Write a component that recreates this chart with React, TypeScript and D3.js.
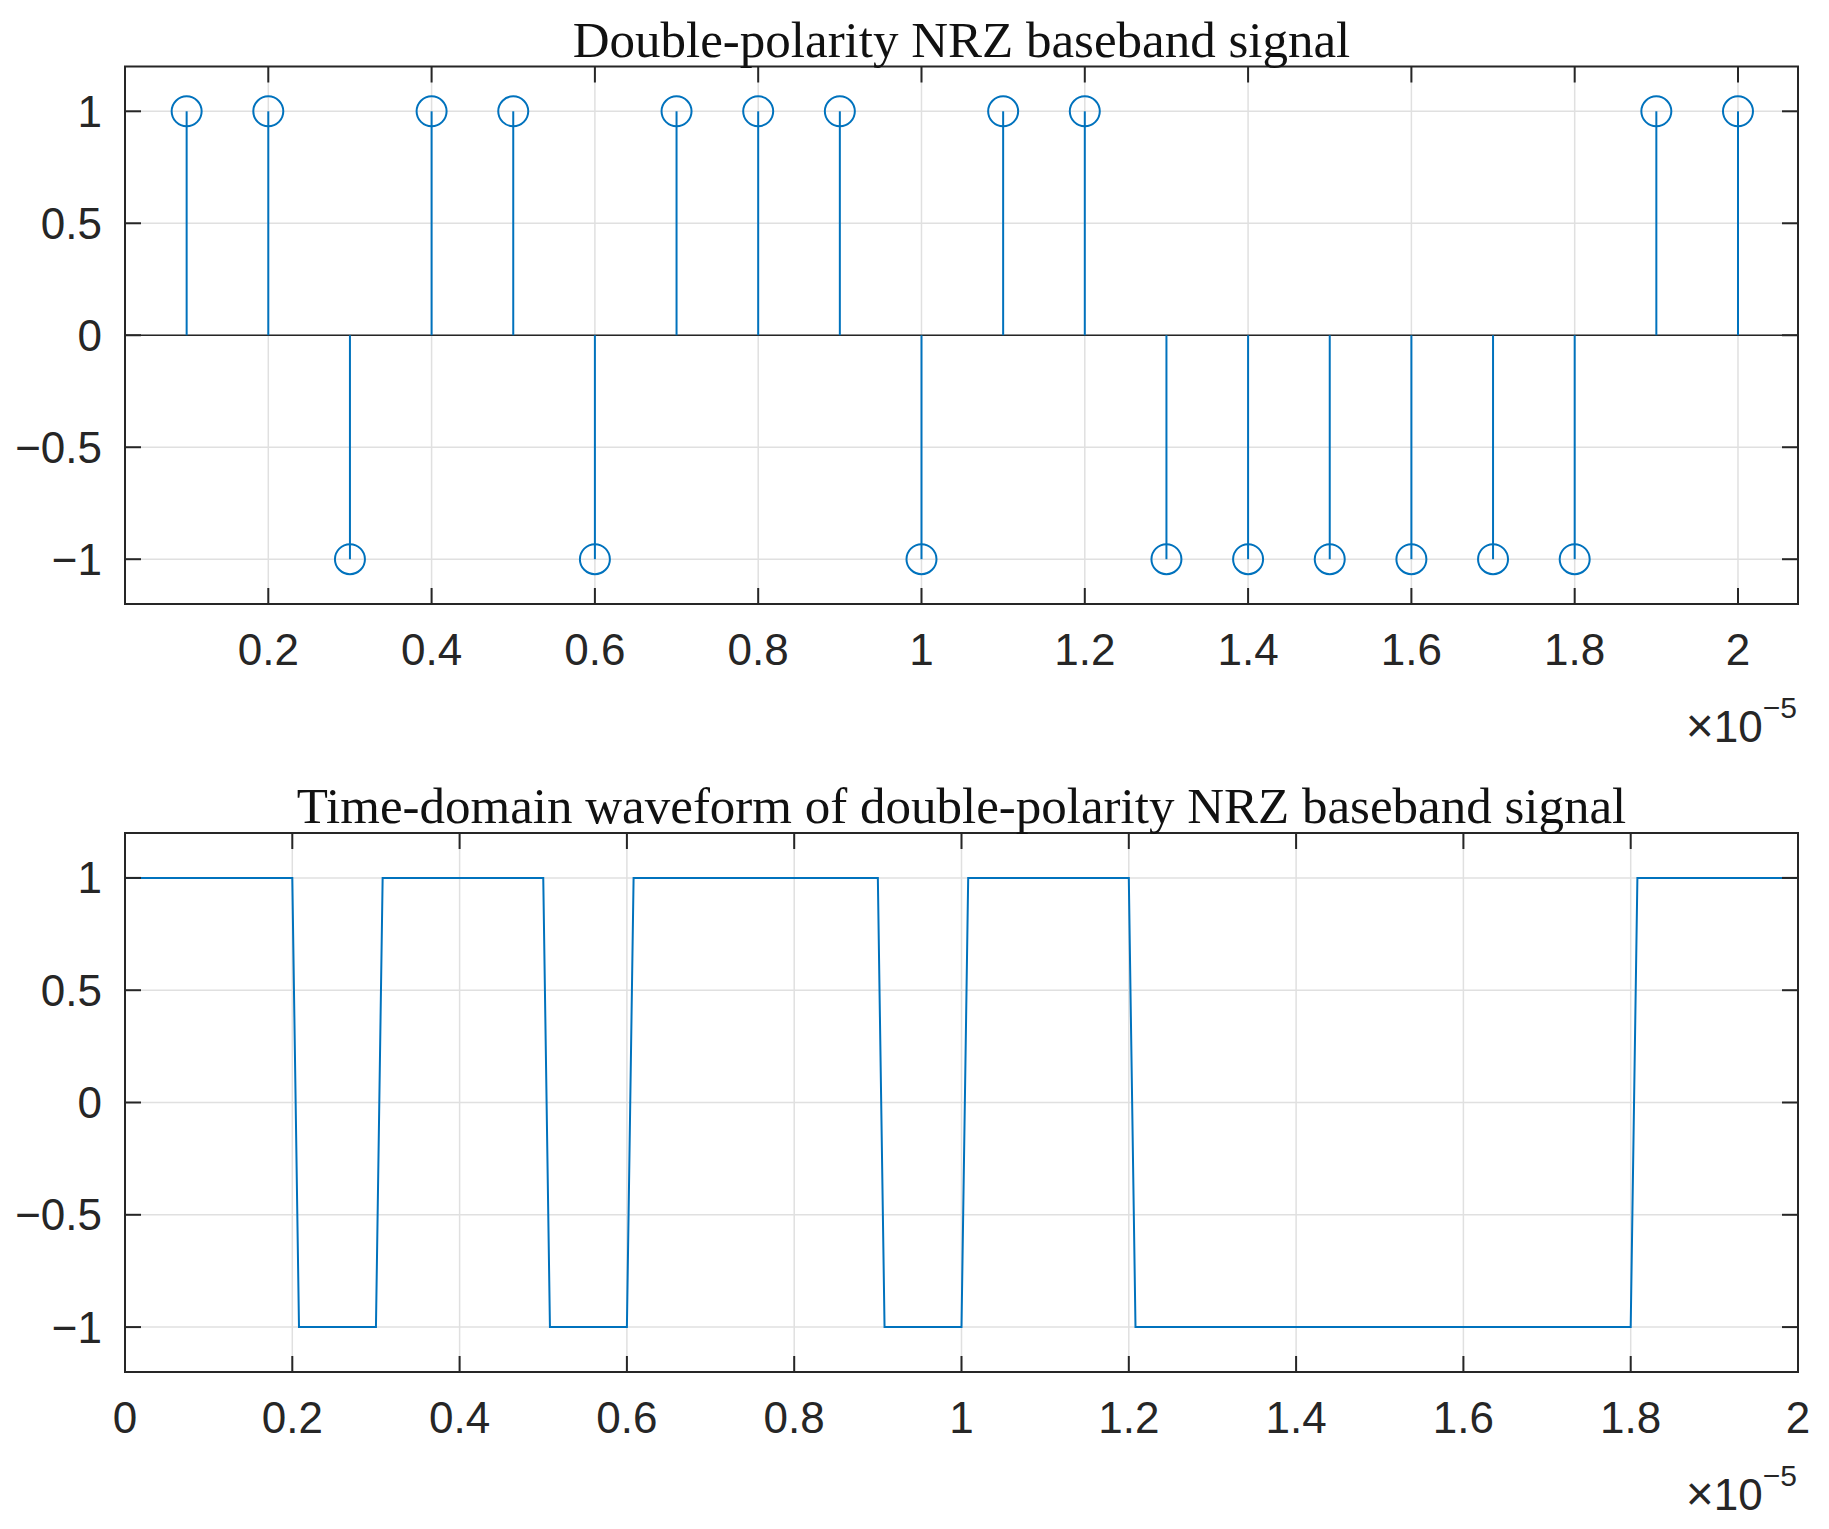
import * as d3 from "d3";

// bit instants (units of 1e-5 s) and polarity of each symbol
const stemT = [0.1, 0.2, 0.3, 0.4, 0.5, 0.6, 0.7, 0.8, 0.9, 1.0, 1.1, 1.2, 1.3, 1.4, 1.5, 1.6, 1.7, 1.8, 1.9, 2.0];
const stemV = [1, 1, -1, 1, 1, -1, 1, 1, 1, -1, 1, 1, -1, -1, -1, -1, -1, -1, 1, 1];

// sampled NRZ waveform vertices
const waveT = [0, 0.2, 0.208, 0.3, 0.308, 0.5, 0.508, 0.6, 0.608, 0.9, 0.908, 1.0, 1.008, 1.2, 1.208, 1.8, 1.808, 2.0];
const waveV = [1, 1, -1, -1, 1, 1, -1, -1, 1, 1, -1, -1, 1, 1, -1, -1, 1, 1];

const topXTicks = [0.2, 0.4, 0.6, 0.8, 1, 1.2, 1.4, 1.6, 1.8, 2];
const topXLabels = ["0.2", "0.4", "0.6", "0.8", "1", "1.2", "1.4", "1.6", "1.8", "2"];
const botXTicks = [0, 0.2, 0.4, 0.6, 0.8, 1, 1.2, 1.4, 1.6, 1.8, 2];
const botXLabels = ["0", "0.2", "0.4", "0.6", "0.8", "1", "1.2", "1.4", "1.6", "1.8", "2"];
const yTicks = [-1, -0.5, 0, 0.5, 1];
const yLabels = ["\u22121", "\u22120.5", "0", "0.5", "1"];

const W = 1829;
const H = 1529;
const LEFT = 125;
const RIGHT = 1798;
const BLUE = "#0072BD";
const INK = "#262626";
const GRID = "#e0e0e0";
const SANS = "'Liberation Sans', Arial, Helvetica, sans-serif";
const SERIF = "'Liberation Serif', 'Times New Roman', serif";
const TICK = 16;

type PanelProps = {
  top: number;
  bottom: number;
  xDomain: [number, number];
  xTicks: number[];
  xLabels: string[];
  title: string;
  children: (x: d3.ScaleLinear<number, number>, y: d3.ScaleLinear<number, number>) => React.ReactNode;
};

function Panel({ top, bottom, xDomain, xTicks, xLabels, title, children }: PanelProps) {
  const x = d3.scaleLinear().domain(xDomain).range([LEFT, RIGHT]);
  const y = d3.scaleLinear().domain([-1.2, 1.2]).range([bottom, top]);
  return (
    <g>
      {/* grid */}
      {xTicks.map((t) => (
        <line key={"gx" + t} x1={x(t)} x2={x(t)} y1={top} y2={bottom} stroke={GRID} strokeWidth={1.5} />
      ))}
      {yTicks.map((t) => (
        <line key={"gy" + t} x1={LEFT} x2={RIGHT} y1={y(t)} y2={y(t)} stroke={GRID} strokeWidth={1.5} />
      ))}
      {children(x, y)}
      {/* box and ticks */}
      <rect x={LEFT} y={top} width={RIGHT - LEFT} height={bottom - top} fill="none" stroke={INK} strokeWidth={2} />
      {xTicks.map((t) => (
        <g key={"tx" + t}>
          <line x1={x(t)} x2={x(t)} y1={bottom} y2={bottom - TICK} stroke={INK} strokeWidth={2} />
          <line x1={x(t)} x2={x(t)} y1={top} y2={top + TICK} stroke={INK} strokeWidth={2} />
        </g>
      ))}
      {yTicks.map((t) => (
        <g key={"ty" + t}>
          <line x1={LEFT} x2={LEFT + TICK} y1={y(t)} y2={y(t)} stroke={INK} strokeWidth={2} />
          <line x1={RIGHT} x2={RIGHT - TICK} y1={y(t)} y2={y(t)} stroke={INK} strokeWidth={2} />
        </g>
      ))}
      {xTicks.map((t, i) => (
        <text key={"lx" + t} x={x(t)} y={bottom + 61} textAnchor="middle" fontFamily={SANS} fontSize={44} fill={INK}>
          {xLabels[i]}
        </text>
      ))}
      {yTicks.map((t, i) => (
        <text key={"ly" + t} x={LEFT - 23} y={y(t) + 15.5} textAnchor="end" fontFamily={SANS} fontSize={44} fill={INK}>
          {yLabels[i]}
        </text>
      ))}
      <text x={RIGHT - 1} y={bottom + 138} textAnchor="end" fontFamily={SANS} fontSize={44} fill={INK}>
        <tspan fontSize={48}>{"\u00d7"}</tspan>
        <tspan>{"10"}</tspan>
        <tspan fontSize={30} dy={-24}>{"\u22125"}</tspan>
      </text>
      <text x={(LEFT + RIGHT) / 2} y={top - 10} textAnchor="middle" fontFamily={SERIF} fontSize={51} fill="#111">
        {title}
      </text>
    </g>
  );
}

export default function App() {
  return (
    <svg width={W} height={H} style={{ position: "absolute", left: 0, top: 0, background: "#fff" }}>
      <rect width={W} height={H} fill="#fff" />
      <Panel
        top={66.5}
        bottom={604}
        xDomain={[0.0245, 2.0735]}
        xTicks={topXTicks}
        xLabels={topXLabels}
        title="Double-polarity NRZ baseband signal"
      >
        {(x, y) => (
          <g>
            <line x1={LEFT} x2={RIGHT} y1={y(0)} y2={y(0)} stroke={INK} strokeWidth={1.5} />
            {stemT.map((t, i) => (
              <g key={t}>
                <line x1={x(t)} x2={x(t)} y1={y(0)} y2={y(stemV[i])} stroke={BLUE} strokeWidth={2} />
                <circle cx={x(t)} cy={y(stemV[i])} r={15} fill="none" stroke={BLUE} strokeWidth={2} />
              </g>
            ))}
          </g>
        )}
      </Panel>
      <Panel
        top={833}
        bottom={1372}
        xDomain={[0, 2]}
        xTicks={botXTicks}
        xLabels={botXLabels}
        title="Time-domain waveform of double-polarity NRZ baseband signal"
      >
        {(x, y) => {
          const path = d3
            .line<number>()
            .x((t) => x(t))
            .y((_, i) => y(waveV[i]))(waveT);
          return <path d={path ?? ""} fill="none" stroke={BLUE} strokeWidth={2} />;
        }}
      </Panel>
    </svg>
  );
}
